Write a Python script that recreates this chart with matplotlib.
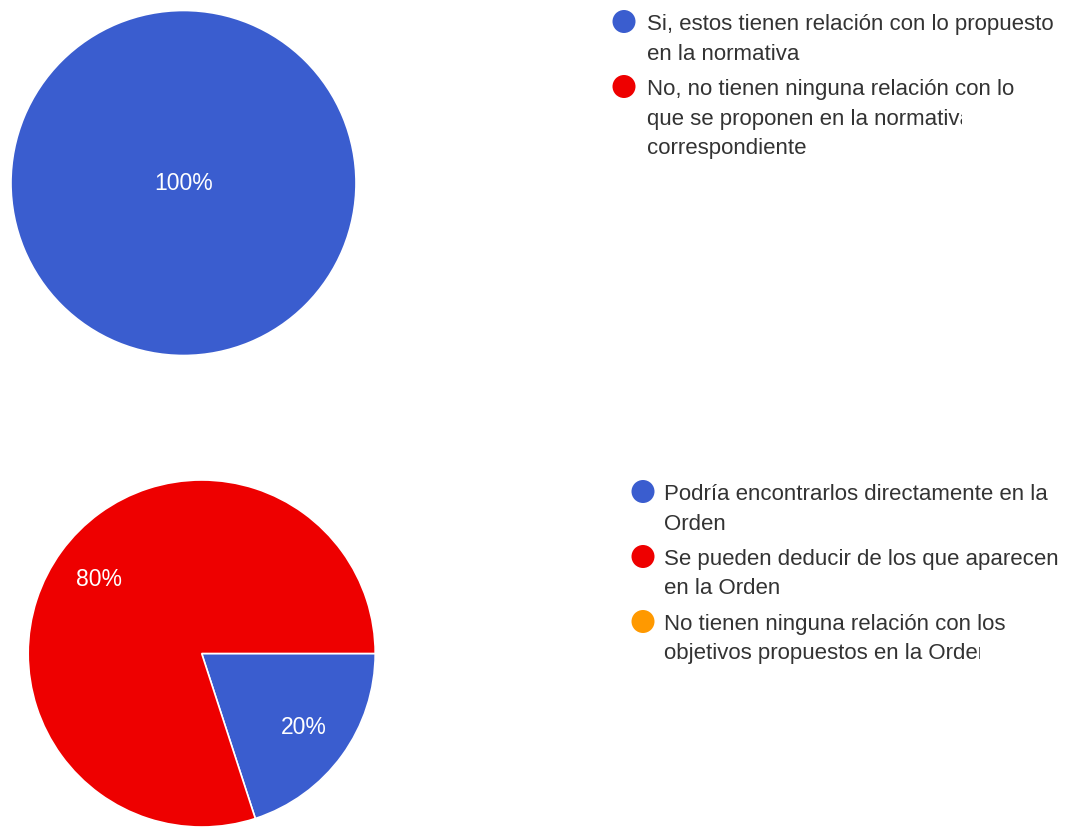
import matplotlib
matplotlib.use('Agg')
import matplotlib.pyplot as plt
from matplotlib.patches import Circle
from matplotlib.transforms import Bbox, TransformedBbox

plt.rcParams['font.family'] = ['Liberation Sans', 'DejaVu Sans']

# respuestas (porcentaje)
labels_1 = ['Si, estos tienen relación con lo propuesto\nen la normativa',
            'No, no tienen ninguna relación con lo\nque se proponen en la normativa\ncorrespondiente']
values_1 = [100, 0]
colors_1 = ['#3a5dcf', '#ee0000']

labels_2 = ['Podría encontrarlos directamente en la\nOrden',
            'Se pueden deducir de los que aparecen\nen la Orden',
            'No tienen ninguna relación con los\nobjetivos propuestos en la Orden']
values_2 = [20, 80, 0]
colors_2 = ['#3a5dcf', '#ee0000', '#ff9900']

W, H = 1074, 827
fig = plt.figure(figsize=(W / 100, H / 100), dpi=100)
fig.patch.set_facecolor('white')


def pie_axes(cx, cy, r):
    return fig.add_axes([(cx - r) / W, 1 - (cy + r) / H, 2 * r / W, 2 * r / H])


def draw_pie(ax, values, colors, pctdist):
    vals = [v for v in values if v > 0]
    cols = [c for v, c in zip(values, colors) if v > 0]
    ax.pie(vals, colors=cols, startangle=0, counterclock=False,
           autopct='%.0f%%', pctdistance=pctdist,
           wedgeprops=dict(edgecolor='white', linewidth=1.2),
           textprops=dict(color='white', fontsize=16.5))
    ax.set_xlim(-1, 1)
    ax.set_ylim(-1, 1)
    ax.axis('off')


ax1 = pie_axes(183.5, 183, 172.5)
draw_pie(ax1, values_1, colors_1, 0.0)

ax2 = pie_axes(201.7, 653.5, 173.5)
draw_pie(ax2, values_2, colors_2, 0.73)

# leyendas, dibujadas en coordenadas de píxel
lay = fig.add_axes([0, 0, 1, 1], zorder=5)
lay.set_xlim(0, W)
lay.set_ylim(H, 0)
lay.axis('off')
lay.patch.set_alpha(0)


def draw_legend(labels, colors, mx, tx, y0, clips):
    y = y0
    for i, (lab, col) in enumerate(zip(labels, colors)):
        lay.add_patch(Circle((mx, y - 8.5), 11.5, color=col, lw=0))
        for j, line in enumerate(lab.split('\n')):
            t = lay.text(tx, y, line, fontsize=16, color='#333333',
                         ha='left', va='baseline')
            right = clips.get((i, j))
            if right is not None:
                t.set_clip_path(None)
                t.set_clip_box(TransformedBbox(Bbox([[0, 0], [right, H]]),
                                               lay.transData))
                t.set_clip_on(True)
            y += 29.5
        y += 35.5 - 29.5


draw_legend(labels_1, colors_1, 624, 647, 30, {(1, 1): 962})
draw_legend(labels_2, colors_2, 643, 664, 500, {(1, 0): 1068, (2, 1): 980})

fig.savefig('out.png', dpi=100, facecolor='white')
